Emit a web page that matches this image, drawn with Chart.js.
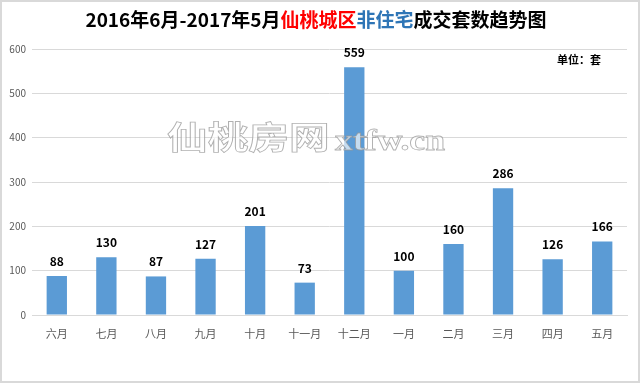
<!DOCTYPE html>
<html>
<head>
<meta charset="utf-8">
<script src="https://cdn.jsdelivr.net/npm/chart.js@4/dist/chart.umd.min.js"></script>
<style>
  html, body { margin: 0; padding: 0; background: #fff; }
  #wrap { width: 640px; height: 383px; position: relative; }
</style>
</head>
<body>
<div id="wrap"><canvas id="chart"></canvas></div>
<script>
// Data
const months = ['六月', '七月', '八月', '九月', '十月', '十一月', '十二月', '一月', '二月', '三月', '四月', '五月'];
const deals = [88, 130, 87, 127, 201, 73, 559, 100, 160, 286, 126, 166];
const titleParts = [
    { text: '2016年6月-2017年5月', color: '#000000' },
    { text: '仙桃城区', color: '#ff0000' },
    { text: '非住宅', color: '#2e75b6' },
    { text: '成交套数趋势图', color: '#000000' }
];
const unitLabel = '单位：套';
const watermarkCn = '仙桃房网';
const watermarkEn = 'xtfw.cn';

const CJK = '"Noto Sans CJK SC", "Noto Sans", sans-serif';

// draw outlined, horizontally stretched text
function outlineText(ctx, text, x, y, font, stretch) {
    ctx.save();
    ctx.translate(x, y);
    ctx.scale(stretch, 1);
    ctx.font = font;
    ctx.fillText(text, 0, 0);
    ctx.strokeText(text, 0, 0);
    ctx.restore();
}

// Title, unit, watermark, value labels and frame
const decorPlugin = {
    id: 'decor',
    afterDatasetsDraw(chart) {
        const ctx = chart.ctx;
        ctx.save();

        // Watermark
        ctx.textBaseline = 'alphabetic';
        ctx.textAlign = 'left';
        ctx.lineWidth = 0.8;
        ctx.strokeStyle = 'rgba(150,150,150,0.75)';
        ctx.fillStyle = 'rgba(255,255,255,0.65)';
        outlineText(ctx, watermarkCn, 167, 149, 'bold 32px ' + CJK, 1.27);
        outlineText(ctx, watermarkEn, 335, 150, 'bold 30px "Liberation Serif", "DejaVu Serif", serif', 1.19);

        // Value labels above bars
        const meta = chart.getDatasetMeta(0);
        ctx.fillStyle = '#000';
        ctx.font = 'bold 12px ' + CJK;
        ctx.textAlign = 'center';
        ctx.textBaseline = 'alphabetic';
        meta.data.forEach((bar, i) => {
            ctx.fillText(String(deals[i]), bar.x, bar.y - 10);
        });

        // Title with coloured parts
        ctx.font = 'bold 19px ' + CJK;
        ctx.textBaseline = 'middle';
        ctx.textAlign = 'left';
        const total = titleParts.reduce((s, p) => s + ctx.measureText(p.text).width, 0);
        let x = 316 - total / 2;
        titleParts.forEach(p => {
            ctx.fillStyle = p.color;
            ctx.fillText(p.text, x, 20);
            x += ctx.measureText(p.text).width;
        });

        // Unit
        ctx.font = 'bold 11px ' + CJK;
        ctx.fillStyle = '#000';
        ctx.textAlign = 'right';
        ctx.fillText(unitLabel, 601, 60);

        // Outer frame
        ctx.strokeStyle = '#d9d9d9';
        ctx.lineWidth = 2;
        ctx.strokeRect(1, 1, 638, 381);
        ctx.restore();
    }
};

document.addEventListener('DOMContentLoaded', () => {
    const ctx = document.getElementById('chart').getContext('2d');
    new Chart(ctx, {
        type: 'bar',
        data: {
            labels: months,
            datasets: [{
                data: deals,
                backgroundColor: '#5b9bd5',
                borderWidth: 0,
                barPercentage: 0.41,
                categoryPercentage: 1.0
            }]
        },
        options: {
            responsive: true,
            maintainAspectRatio: false,
            animation: false,
            layout: { padding: { top: 49, right: 13, left: 0, bottom: 0 } },
            plugins: {
                legend: { display: false },
                tooltip: { enabled: false }
            },
            scales: {
                x: {
                    grid: { display: false },
                    border: { color: '#d9d9d9' },
                    ticks: { color: '#595959', font: { size: 11, family: CJK }, padding: 4, maxRotation: 0 },
                    afterFit(scale) { scale.height = 68; }
                },
                y: {
                    min: 0,
                    max: 600,
                    ticks: { stepSize: 100, color: '#595959', font: { size: 10, family: CJK }, padding: 6 },
                    grid: { color: '#d9d9d9', drawTicks: false },
                    border: { display: false },
                    afterFit(scale) { scale.width = 32; }
                }
            }
        },
        plugins: [decorPlugin]
    });
});
</script>
</body>
</html>
